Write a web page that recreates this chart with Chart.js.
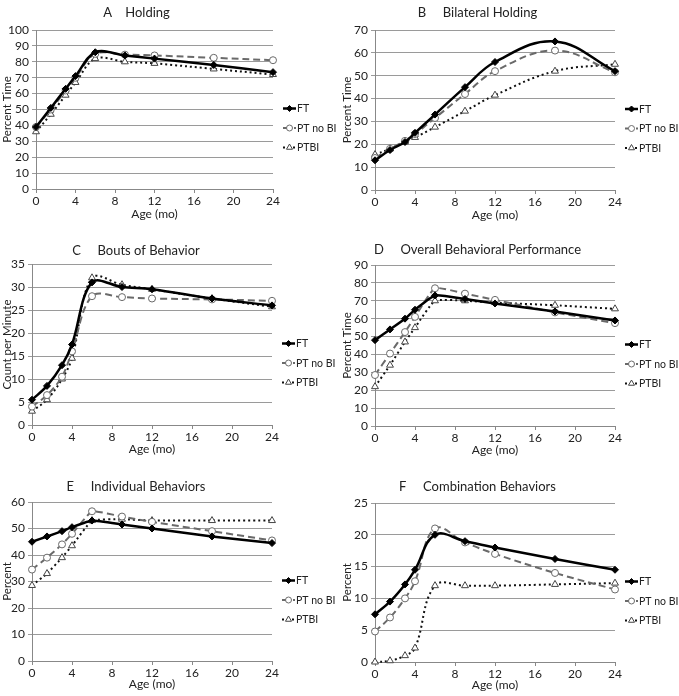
<!DOCTYPE html>
<html>
<head>
<meta charset="utf-8">
<script src="https://cdn.jsdelivr.net/npm/chart.js@4.4.0/dist/chart.umd.min.js"></script>
<style>
  body { margin: 0; background: #fff; }
  #page { position: relative; width: 679px; height: 696px; overflow: hidden; }
  #page canvas { position: absolute; }
</style>
</head>
<body>
<div id="page"></div>
<script>
// DADOS
const ages = [0, 1.5, 3, 4, 6, 9, 12, 18, 24];
const seriesNames = ['FT', 'PT no BI', 'PTBI'];

const holdingFT   = [39, 51, 63, 71, 86, 84, 82, 78, 73.5];
const holdingPT   = [39, 50, 62, 70, 85, 84.5, 84, 82.5, 81];
const holdingPTBI = [36, 47, 59, 67, 82, 80, 79, 75.5, 72];

const bilateralFT   = [13, 17.5, 21, 25, 33, 45, 56, 65, 52];
const bilateralPT   = [14, 18, 21.5, 24.5, 31.5, 42, 52, 61, 51.5];
const bilateralPTBI = [15.5, 18, 21, 23, 27.5, 34.5, 41.5, 52, 55];

const boutsFT   = [5.5, 8.5, 13, 17.5, 31, 30, 29.5, 27.5, 26];
const boutsPT   = [4, 6.5, 10.5, 16, 28, 27.8, 27.5, 27.3, 27];
const boutsPTBI = [3, 5.5, 10, 14.5, 32, 30.5, 29.5, 27.5, 25.7];

const overallFT   = [48, 54, 60, 65, 73, 71, 68.5, 64, 59];
const overallPT   = [28.5, 40.5, 52.5, 61, 77, 74, 70.5, 63.5, 57.5];
const overallPTBI = [22, 34, 47, 55, 70, 70, 69, 67.5, 65.5];

const individualFT   = [45, 47, 49, 50.5, 53, 51.5, 50, 47, 44.5];
const individualPT   = [34.5, 39, 44, 48, 56.5, 54.5, 52.5, 49, 45.5];
const individualPTBI = [28.5, 33, 39, 43.5, 53, 53.5, 53, 53, 53];

const comboFT   = [7.5, 9.5, 12.2, 14.5, 20, 19, 18, 16.2, 14.5];
const comboPT   = [4.8, 7, 10, 12.7, 21, 18.8, 17, 14, 11.4];
const comboPTBI = [0, 0.2, 1, 2.2, 12, 12, 12, 12.2, 12.4];

const xTicks = [0, 4, 8, 12, 16, 20, 24];
const yTicksHolding    = [0, 10, 20, 30, 40, 50, 60, 70, 80, 90, 100];
const yTicksBilateral  = [0, 10, 20, 30, 40, 50, 60, 70];
const yTicksBouts      = [0, 5, 10, 15, 20, 25, 30, 35];
const yTicksOverall    = [0, 10, 20, 30, 40, 50, 60, 70, 80, 90];
const yTicksIndividual = [0, 10, 20, 30, 40, 50, 60];
const yTicksCombo      = [0, 5, 10, 15, 20, 25];

// layout dos paineis (coordenadas da pagina)
const panels = [
  { title: 'A    Holding', yTitle: 'Percent Time', yTicks: yTicksHolding, tension: 0.35,
    data: [holdingFT, holdingPT, holdingPTBI],
    box: { x: 0, y: 0, w: 340 }, area: { l: 36, r: 273, t: 30, b: 189 }, titleY: 13, xTitleY: 214 },
  { title: 'B     Bilateral Holding', yTitle: 'Percent Time', yTicks: yTicksBilateral, tension: 0.4,
    data: [bilateralFT, bilateralPT, bilateralPTBI],
    box: { x: 340, y: 0, w: 339 }, area: { l: 375, r: 615, t: 30, b: 190 }, titleY: 13, xTitleY: 215 },
  { title: 'C     Bouts of Behavior', yTitle: 'Count per Minute', yTicks: yTicksBouts, tension: 0.35,
    data: [boutsFT, boutsPT, boutsPTBI],
    box: { x: 0, y: 232, w: 340 }, area: { l: 32, r: 272, t: 264, b: 425 }, titleY: 251, xTitleY: 449 },
  { title: 'D     Overall Behavioral Performance', yTitle: 'Percent Time', yTicks: yTicksOverall, tension: 0.15,
    data: [overallFT, overallPT, overallPTBI],
    box: { x: 340, y: 232, w: 339 }, area: { l: 375, r: 615, t: 265, b: 426 }, titleY: 250, xTitleY: 450 },
  { title: 'E     Individual Behaviors', yTitle: 'Percent', yTicks: yTicksIndividual, tension: 0.1,
    data: [individualFT, individualPT, individualPTBI],
    box: { x: 0, y: 468, w: 340 }, area: { l: 32, r: 272, t: 502, b: 661 }, titleY: 487, xTitleY: 684 },
  { title: 'F     Combination Behaviors', yTitle: 'Percent', yTicks: yTicksCombo, tension: 0.4,
    data: [comboFT, comboPT, comboPTBI],
    box: { x: 340, y: 468, w: 339 }, area: { l: 375, r: 615, t: 503, b: 662 }, titleY: 487, xTitleY: 685 }
];

const seriesStyles = [
  { borderColor: '#000', backgroundColor: '#000', borderWidth: 2.5, borderDash: [],
    pointStyle: 'rectRot', pointRadius: 3.5, pointBackgroundColor: '#000', pointBorderColor: '#000', pointBorderWidth: 1 },
  { borderColor: '#6a6a6a', backgroundColor: '#fff', borderWidth: 2, borderDash: [7, 4],
    pointStyle: 'circle', pointRadius: 3.5, pointBackgroundColor: '#fff', pointBorderColor: '#6a6a6a', pointBorderWidth: 1 },
  { borderColor: '#111', backgroundColor: '#fff', borderWidth: 2, borderDash: [2, 3],
    pointStyle: 'triangle', pointRadius: 4, pointBackgroundColor: '#fff', pointBorderColor: '#444', pointBorderWidth: 1 }
];

Chart.defaults.font.family = 'Lato, "Liberation Sans", sans-serif';
Chart.defaults.color = '#222';

// legenda desenhada a direita da area do grafico
const sideLegend = {
  id: 'sideLegend',
  afterDraw(chart) {
    const ctx = chart.ctx;
    const ca = chart.chartArea;
    const x0 = ca.right + 10;
    const yc = (ca.top + ca.bottom) / 2 - 1;
    chart.data.datasets.forEach((ds, i) => {
      const y = yc + i * 19.5;
      ctx.save();
      ctx.strokeStyle = ds.borderColor;
      ctx.lineWidth = ds.borderWidth;
      ctx.setLineDash(ds.borderDash);
      ctx.beginPath();
      ctx.moveTo(x0, y);
      ctx.lineTo(x0 + 13, y);
      ctx.stroke();
      ctx.setLineDash([]);
      ctx.fillStyle = ds.pointBackgroundColor;
      ctx.strokeStyle = ds.pointBorderColor;
      ctx.lineWidth = ds.pointBorderWidth;
      Chart.helpers.drawPoint(ctx, {
        pointStyle: ds.pointStyle, radius: ds.pointRadius - 0.5, borderWidth: ds.pointBorderWidth, rotation: 0
      }, x0 + 6.5, y);
      ctx.fillStyle = '#222';
      ctx.font = '10.5px Lato, "Liberation Sans", sans-serif';
      ctx.textBaseline = 'middle';
      ctx.fillText(ds.label, x0 + 14, y + 0.5);
      ctx.restore();
    });
  }
};

const page = document.getElementById('page');

panels.forEach(p => {
  const xAxisH = p.xTitleY + 9 - p.area.b;
  const h = p.area.b + xAxisH - p.box.y;
  const canvas = document.createElement('canvas');
  canvas.width = p.box.w;
  canvas.height = h;
  canvas.style.left = p.box.x + 'px';
  canvas.style.top = p.box.y + 'px';
  canvas.style.width = p.box.w + 'px';
  canvas.style.height = h + 'px';
  page.appendChild(canvas);

  const titleLine = 13 * 1.2;
  const titleTop = p.titleY - p.box.y - titleLine / 2;
  const titleBottom = p.area.t - p.box.y - titleTop - titleLine;

  const datasets = p.data.map((vals, i) => Object.assign({
    label: seriesNames[i],
    data: ages.map((a, k) => ({ x: a, y: vals[k] })),
    tension: p.tension,
    clip: 8
  }, seriesStyles[i]));

  new Chart(canvas.getContext('2d'), {
    type: 'line',
    data: { datasets: datasets },
    options: {
      responsive: false,
      animation: false,
      layout: { padding: { left: 0, top: 0, bottom: 0, right: p.box.x + p.box.w - p.area.r } },
      scales: {
        x: {
          type: 'linear',
          min: 0,
          max: 24,
          afterBuildTicks: scale => { scale.ticks = xTicks.map(v => ({ value: v })); },
          afterFit: scale => { scale.height = xAxisH; },
          grid: { drawOnChartArea: false, drawTicks: true, tickLength: 4, color: '#888' },
          border: { color: '#888', width: 1 },
          ticks: { font: { size: 12 }, padding: 1, maxRotation: 0, autoSkip: false },
          title: { display: true, text: 'Age (mo)', font: { size: 12 }, padding: { top: 0, bottom: 2 } }
        },
        y: {
          min: 0,
          max: p.yTicks[p.yTicks.length - 1],
          afterBuildTicks: scale => { scale.ticks = p.yTicks.map(v => ({ value: v })); },
          afterFit: scale => { scale.width = p.area.l - p.box.x; },
          grid: { color: '#9a9a9a', tickLength: 4 },
          border: { color: '#888', width: 1 },
          ticks: { font: { size: 12 }, padding: 3, autoSkip: false },
          title: { display: true, text: p.yTitle, font: { size: 11.5 }, padding: { top: 0, bottom: 0 } }
        }
      },
      plugins: {
        legend: { display: false },
        tooltip: { enabled: false },
        title: {
          display: true,
          text: p.title,
          color: '#222',
          font: { size: 13, weight: 'normal' },
          padding: { top: titleTop, bottom: titleBottom }
        }
      }
    },
    plugins: [sideLegend]
  });
});
</script>
</body>
</html>
